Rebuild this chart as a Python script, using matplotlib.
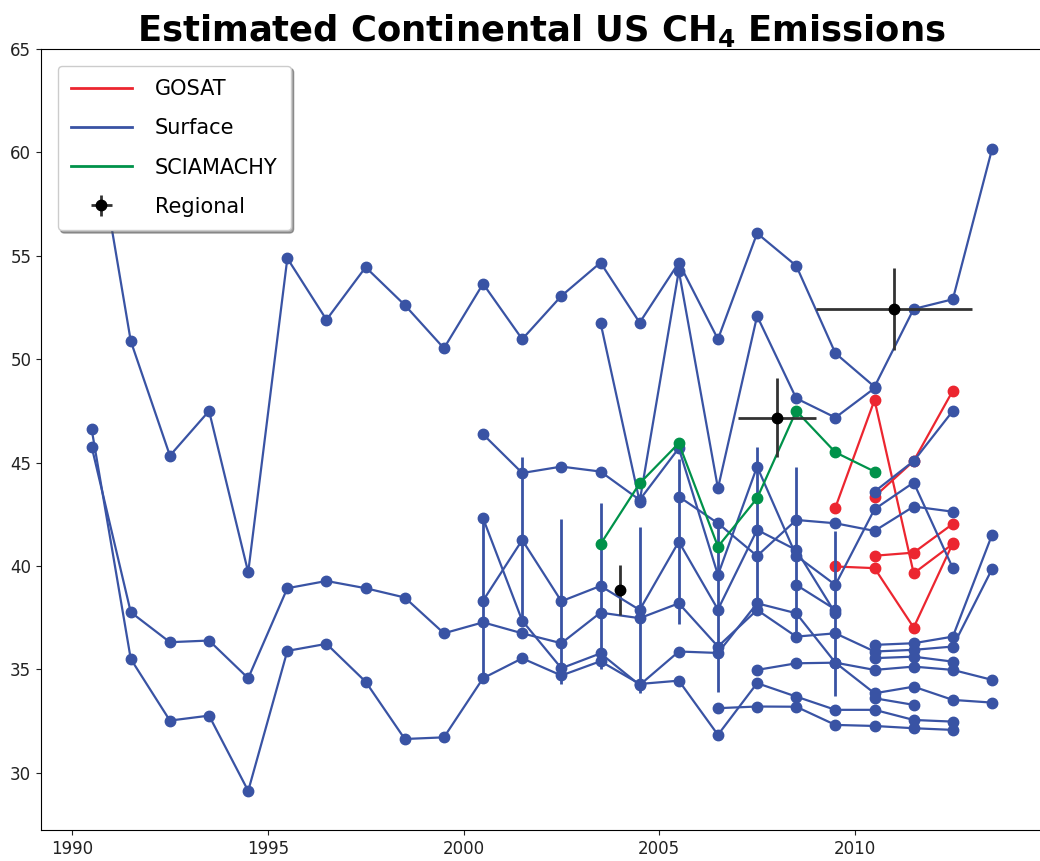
import matplotlib
matplotlib.use('Agg')
import matplotlib.pyplot as plt
from matplotlib.lines import Line2D
import numpy as np

# surface inversions: (first year, yearly values)
surf_top = (1990.5, [62.1, 50.88, 45.34, 47.5, 39.7, 54.88, 51.91, 54.45, 52.62, 50.53, 53.65, 50.97,
                     53.06, 54.67, 51.77, 54.67, 50.97, 56.09, 54.52, 50.29, 48.67, 52.43, 52.9, 60.15])
surf_b = (1990.5, [45.78, 37.77, 36.32, 36.4, 34.58, 38.93, 39.28, 38.93, 38.48, 36.75, 37.28, 36.75,
                   36.27, 37.75, 37.48, 38.2, 36.11, 37.88, 36.59, 36.75, 35.87, 35.95, 36.11, 39.85])
surf_c = (1990.5, [46.63, 35.51, 32.53, 32.77, 29.13, 35.9, 36.24, 34.41, 31.64, 31.72, 34.58, 35.54,
                   34.71, 35.4, 34.3, 34.46, 31.84, 34.34, 33.69, 33.05, 33.05, 32.56, 32.48])
surf_d = (2000.5, [46.37, 44.5, 44.81, 44.57, 43.2, 45.7, 39.57, 44.81, 40.5, 39.09, 42.75, 44.04, 39.9])
surf_e = (2000.5, [42.31, 37.36, 35.06, 35.78, 34.25, 35.87, 35.8, 38.2, 37.72, 35.33, 34.98, 35.14, 34.98, 34.5])
surf_s2 = (2003.5, [51.77, 43.12, 54.28, 43.76, 52.09, 48.11, 47.18, 48.6])
surf_g = (2005.5, [43.36, 42.07, 40.49, 42.23, 42.07, 41.7, 42.88, 42.63])
surf_h = (2006.5, [33.13, 33.21, 33.2, 32.32, 32.27, 32.16, 32.08])
surf_k = (2007.5, [34.98, 35.3, 35.33, 33.85, 34.17, 33.53, 33.4])
surf_m = (2008.5, [39.09, 37.9])
surf_n1 = (2010.5, [43.6, 45.08, 47.5])
surf_n2 = (2010.5, [36.19, 36.27, 36.59, 41.5])
surf_n3 = (2010.5, [35.55, 35.62, 35.38])
surf_n4 = (2010.5, [33.61, 33.29])
# surface series with uncertainty bars
surf_err = (2000.5, [38.33, 41.26, 38.3, 39.04, 37.88, 41.18, 37.9, 41.75, 40.78, 37.72])
surf_err_size = 4.0

gosat = [(2009.5, [42.83, 48.03, 39.65, 41.07]),
         (2010.5, [43.36, 45.08, 48.48]),
         (2009.5, [39.98, 39.9, 37.03, 41.1]),
         (2010.5, [40.5, 40.65, 42.04])]
sciamachy = (2003.5, [41.06, 44.0, 45.94, 40.94, 43.28, 47.5, 45.5, 44.57])

reg_x = [2004, 2008, 2011]
reg_y = [38.85, 47.18, 52.43]
reg_xerr = [0, 1, 2]
reg_yerr = [1.2, 1.9, 2.0]

blue = '#3953a4'
red = '#ec2630'
green = '#00924a'

def xs(start, vals):
    return start + np.arange(len(vals))

fig = plt.figure(figsize=(10.4, 8.61), dpi=100)
ax = fig.add_axes([41/1040, 1 - 830/861, 1.002 - 41/1040, (830 - 49)/861])

for s, v in gosat:
    ax.plot(xs(s, v), v, '-o', color=red, lw=1.6, ms=7.5)

surface = [surf_top, surf_b, surf_c, surf_d, surf_e, surf_s2, surf_g, surf_h, surf_k, surf_m,
           surf_n1, surf_n2, surf_n3, surf_n4]
for s, v in surface:
    ax.plot(xs(s, v), v, '-o', color=blue, lw=1.6, ms=7.5)
s, v = surf_err
ax.errorbar(xs(s, v), v, yerr=surf_err_size, fmt='-o', color=blue, lw=1.6, ms=7.5, elinewidth=2)

s, v = sciamachy
ax.plot(xs(s, v), v, '-o', color=green, lw=1.6, ms=7.5)

reg = ax.errorbar(reg_x, reg_y, xerr=reg_xerr, yerr=reg_yerr, fmt='o', color='black',
                  ecolor='#333333', elinewidth=2, ms=7.5)

ax.set_xlim(1989.207, 2014.78)
ax.set_ylim(27.24, 65)
ax.set_xticks([1990, 1995, 2000, 2005, 2010])
ax.set_yticks([30, 35, 40, 45, 50, 55, 60, 65])
ax.tick_params(labelsize=12, colors='#222222')

ax.set_title(r'Estimated Continental US CH$_\mathbf{4}$ Emissions', fontsize=25.5,
             fontweight='bold', pad=5)

handles = [Line2D([], [], color=red, lw=2), Line2D([], [], color=blue, lw=2),
           Line2D([], [], color=green, lw=2), reg]
ax.legend(handles, ['GOSAT', 'Surface', 'SCIAMACHY', 'Regional'], loc='upper left',
          fontsize=15, shadow=True, handlelength=2.9, labelspacing=0.92,
          handletextpad=1.1, borderaxespad=0.8, borderpad=0.65)

fig.savefig('out.png', dpi=100)
